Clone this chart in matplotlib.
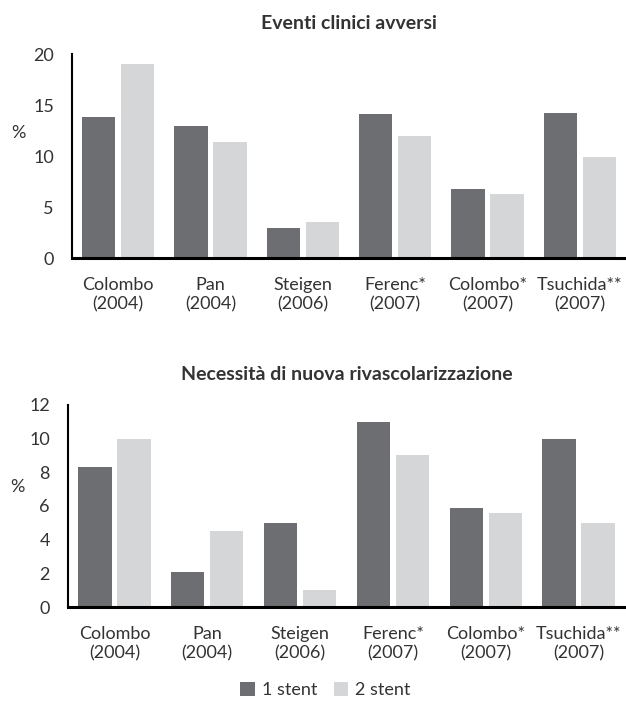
import matplotlib.pyplot as plt
import numpy as np

plt.rcParams['font.family'] = ['Lato', 'DejaVu Sans']

studi = ['Colombo\n(2004)', 'Pan\n(2004)', 'Steigen\n(2006)',
         'Ferenc*\n(2007)', 'Colombo*\n(2007)', 'Tsuchida**\n(2007)']

# eventi clinici avversi (%)
eventi_1 = [13.8, 12.9, 2.9, 14.1, 6.8, 14.2]
eventi_2 = [19.0, 11.4, 3.5, 12.0, 6.3, 9.9]

# necessita' di nuova rivascolarizzazione (%)
rivasc_1 = [8.3, 2.1, 5.0, 11.0, 5.9, 10.0]
rivasc_2 = [10.0, 4.5, 1.0, 9.0, 5.6, 5.0]

col1 = '#6d6e71'
col2 = '#d5d6d8'
txt = '#333333'

fig = plt.figure(figsize=(6.26, 7.07), dpi=100)
ax1 = fig.add_axes([0.115, 0.635, 0.885, 0.2886])
ax2 = fig.add_axes([0.1086, 0.1414, 0.8898, 0.2858])

x = np.arange(len(studi))
w = 0.36

def disegna(ax, v1, v2, ymax, step, titolo, ypct):
    ax.bar(x - 0.21, v1, w, color=col1, label='1 stent')
    ax.bar(x + 0.21, v2, w, color=col2, label='2 stent')
    ax.set_xlim(-0.5, len(studi) - 0.5)
    ax.set_ylim(0, ymax)
    ax.set_yticks(np.arange(0, ymax + 1, step))
    ax.set_xticks(x)
    ax.set_xticklabels(studi, fontsize=13, color=txt, linespacing=1.25)
    ax.tick_params(axis='y', labelsize=13, labelcolor=txt, length=0, pad=13)
    ax.tick_params(axis='x', length=0, pad=14)
    for s in ['top', 'right']:
        ax.spines[s].set_visible(False)
    ax.spines['left'].set_linewidth(1.5)
    ax.spines['bottom'].set_linewidth(2.2)
    ax.text(-0.5, ypct, '%', transform=ax.get_yaxis_transform(),
            fontsize=13, color=txt, ha='center', va='center')
    ax.set_title(titolo, fontsize=14, fontweight='bold', color=txt, pad=18)

disegna(ax1, eventi_1, eventi_2, 20, 5, 'Eventi clinici avversi', 12.3)
disegna(ax2, rivasc_1, rivasc_2, 12, 2, 'Necessità di nuova rivascolarizzazione', 7.1)
ax1.texts[0].set_x(-0.097)
ax2.texts[0].set_x(-0.09)

h, l = ax2.get_legend_handles_labels()
fig.legend(h, l, loc='center', bbox_to_anchor=(0.52, 0.024), ncol=2,
           frameon=False, fontsize=13, handlelength=0.8, handleheight=0.8,
           columnspacing=0.9, handletextpad=0.4, labelcolor=txt)

fig.savefig('out.png', dpi=100)
